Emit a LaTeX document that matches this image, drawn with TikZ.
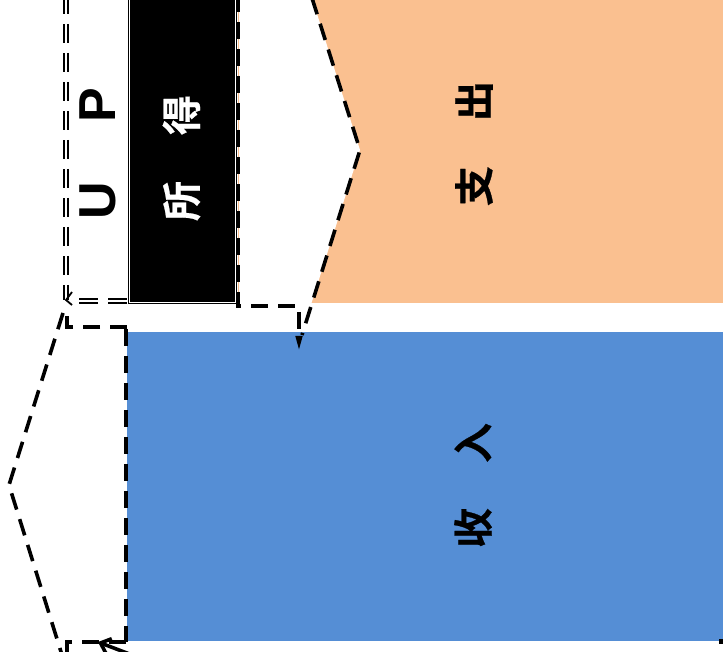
\documentclass[tikz,border=0pt]{standalone}
\usepackage{fontspec}
\newfontfamily\cjk{Noto Sans CJK SC}[BoldFont=* Bold, BoldFeatures={FakeBold=0.6}]
\newfontfamily\lat{Liberation Sans}
\usetikzlibrary{arrows.meta}
\definecolor{orangefill}{RGB}{250,192,144}
\definecolor{bluefill}{RGB}{85,142,213}
\tikzset{
  dline/.style={line width=3.6pt, dash pattern=on 17pt off 10pt},
  ddline/.style={draw=black, line width=1.8pt, double=white, double distance=2.2pt, dash pattern=on 19pt off 10pt},
  block/.style={rectangle, inner sep=0pt, outer sep=0pt},
  cjktext/.style={rotate=90, inner sep=0pt, font=\cjk\bfseries\fontsize{40}{40}\selectfont},
}
\begin{document}
\begin{tikzpicture}[x=1pt,y=-1pt]
\useasboundingbox (0,0) rectangle (723,652);
% coloured blocks
\node[block, fill=orangefill, minimum width=520pt, minimum height=340pt] (outblock) at (498,133) {};
\node[block, fill=bluefill, minimum width=620pt, minimum height=309pt] (inblock) at (437,486.5) {};
% white chevron over the orange block
\coordinate (ct) at (312,-2);
\coordinate (ctip) at (360,150);
\coordinate (cb) at (302,335);
\fill[white] (239,-5) -- (ct) -- (ctip) -- (311.5,303) -- (239,303) -- cycle;
% black block with double border
\node[block, fill=black, draw=black, line width=1pt, double=white, double distance=1pt,
      minimum width=106pt, minimum height=330pt] (blackblock) at (182,138) {};
% texts
\node[cjktext, text=white] (suode) at (181.5,158) {所\hspace{46pt}得};
\node[cjktext] (zhichu) at (474,143.5) {支\hspace{45pt}出};
\node[cjktext] (shouru) at (473,485.5) {收\hspace{45pt}入};
\node[rotate=90, inner sep=0pt, font=\lat\bfseries\fontsize{52}{52}\selectfont] (up) at (98,153.5) {U\hspace{60pt}P};
% dashed outlines and connectors
\coordinate (a1) at (238,-5);
\coordinate (a2) at (238,306);
\coordinate (a3) at (299,306);
\coordinate (a4) at (299,353);
\draw[dline, -{Triangle[length=17pt 0, width=6pt 0]}] (a1) -- (a2) -- (a3) -- (a4);
\draw[dline] (ct) -- (ctip) -- (cb);
% double dashed line on the left
\coordinate (d1) at (66,-5);
\coordinate (d2) at (66,300);
\coordinate (d3) at (127,301);
\draw[ddline] (d1) -- (d2);
\draw[ddline] (d3) -- (70,301);
\draw[line width=1.8pt] (72,292) -- (66,300) -- (72,305);
% lower-left chevron
\coordinate (l1) at (127,327);
\coordinate (l2) at (67,327);
\coordinate (l3) at (67,316);
\draw[dline] (l1) -- (l2) -- (l3);
\coordinate (p1) at (63,313);
\coordinate (p2) at (9,485);
\coordinate (p3) at (62,655);
\draw[dline] (p1) -- (p2) -- (p3);
\coordinate (r1) at (126,329);
\coordinate (r2) at (126,642);
\coordinate (r3) at (67,642);
\coordinate (r4) at (67,655);
\draw[dline] (r1) -- (r2);
\draw[dline] (r2) -- (r3) -- (r4);
% arrow at the bottom
\coordinate (b0) at (140,658);
\coordinate (b1) at (98,642);
\draw[line width=3.6pt, -{Straight Barb[length=9pt 0, width=16pt 0]}] (b0) -- (b1);
% small corner mark at the bottom right
\fill (719,639) rectangle (724,644);
\end{tikzpicture}
\end{document}
